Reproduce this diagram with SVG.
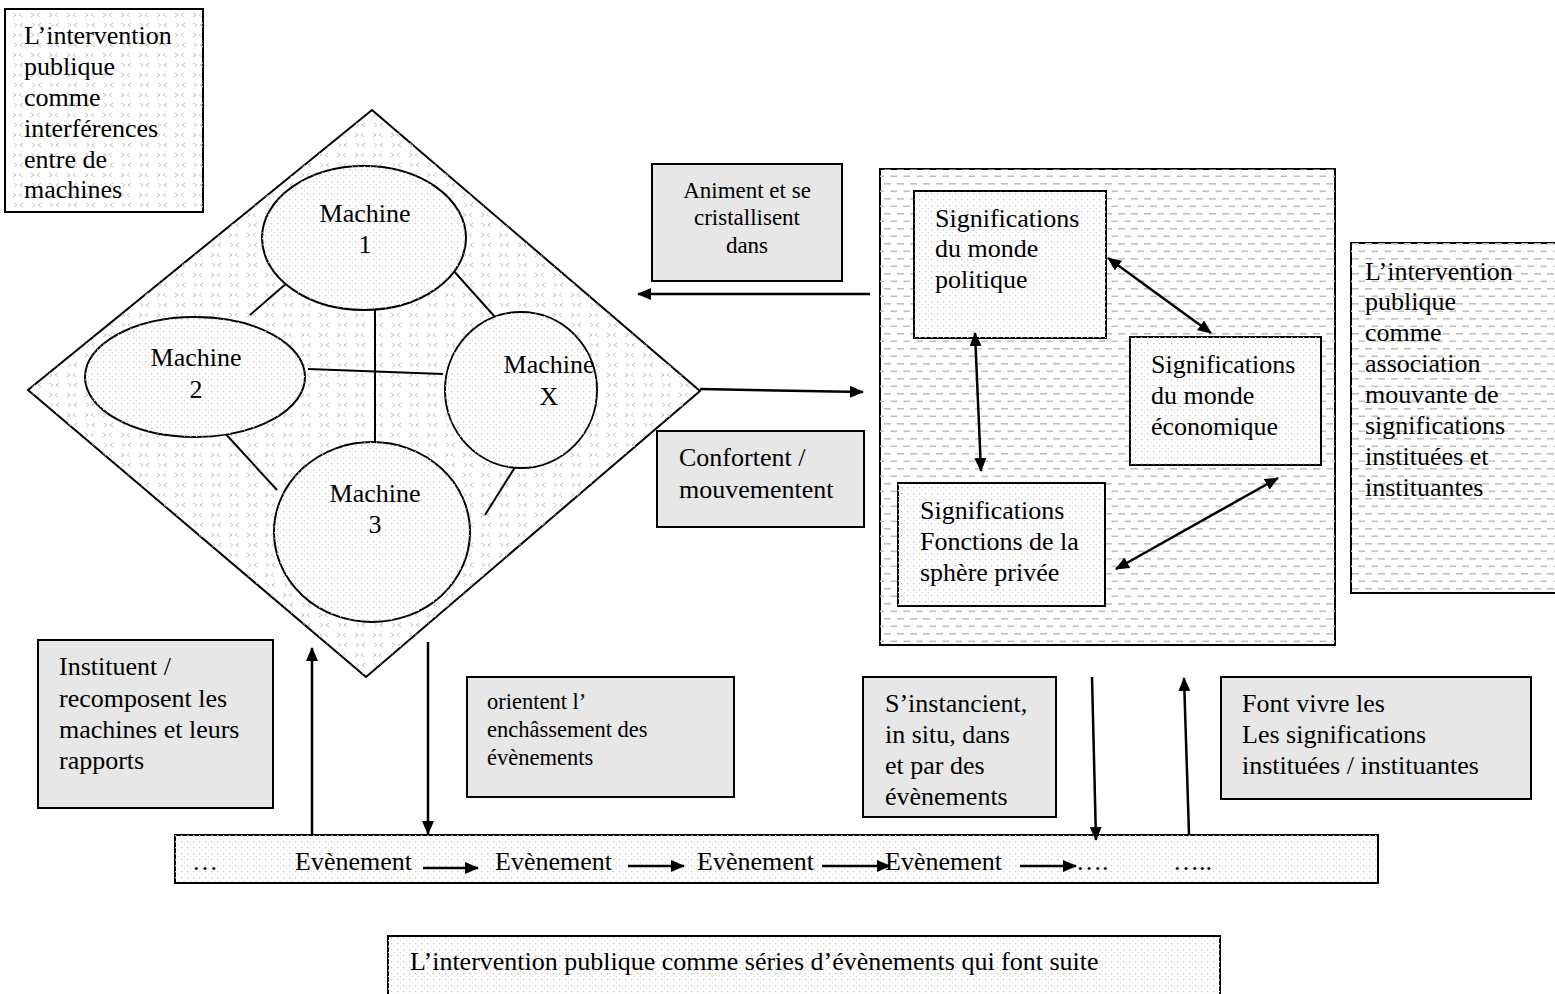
<svg xmlns="http://www.w3.org/2000/svg" width="1555" height="994" viewBox="0 0 1555 994" font-family="'Liberation Serif', 'DejaVu Serif', serif">
<defs>
<pattern id="chev" width="18" height="20" patternUnits="userSpaceOnUse">
<path d="M5 3 L2 5 L5 7 M13 13 L16 15 L13 17" fill="none" stroke="#c2c2c2" stroke-width="1"/>
<path d="M14 3 L17 5 L14 7 M4 13 L1 15 L4 17" fill="none" stroke="#d0d0d0" stroke-width="1"/>
</pattern>
<pattern id="dots" width="6" height="6" patternUnits="userSpaceOnUse">
<rect x="1" y="1" width="1.4" height="1.4" fill="#c8c8c8"/>
<rect x="4" y="4" width="1.2" height="1.2" fill="#dcdcdc"/>
</pattern>
<pattern id="dash" width="13" height="15" patternUnits="userSpaceOnUse">
<rect x="0" y="3" width="7" height="1.6" fill="#c0c0c0"/>
<rect x="6.5" y="10.5" width="7" height="1.6" fill="#c0c0c0"/>
</pattern>
<marker id="ah" viewBox="0 0 14 12" refX="13" refY="6" markerWidth="14" markerHeight="12" markerUnits="userSpaceOnUse" orient="auto-start-reverse">
<path d="M0 0 L14 6 L0 12 Z" fill="#000"/>
</marker>
</defs>
<style>
text{font-family:'Liberation Serif','DejaVu Serif',serif;font-size:26px;fill:#000}
.s{font-size:23px}
.xs{font-size:22.5px}
.box{stroke:#000;stroke-width:2}
.grey{fill:#e7e7e7;stroke:#000;stroke-width:2}
.ln{stroke:#000;stroke-width:2;fill:none}
.ar{stroke:#000;stroke-width:2.5;fill:none;marker-end:url(#ah)}
.dar{stroke:#000;stroke-width:2.5;fill:none;marker-end:url(#ah);marker-start:url(#ah)}
.c{text-anchor:middle}
</style>

<g id="title-machines">
<rect class="box" x="5" y="9" width="198" height="203" fill="#fff"/>
<rect x="5" y="9" width="198" height="203" fill="url(#chev)"/>
<text x="24" y="44">L’intervention</text>
<text x="24" y="75">publique</text>
<text x="24" y="106">comme</text>
<text x="24" y="137">interférences</text>
<text x="24" y="168">entre de</text>
<text x="24" y="198">machines</text>
</g>

<g id="diamond">
<path d="M372 110 L700 391 L366 677 L28 390 Z" fill="#fff" stroke="#000" stroke-width="2"/>
<path d="M372 110 L700 391 L366 677 L28 390 Z" fill="url(#chev)"/>
</g>

<g id="machine-lines">
<line class="ln" x1="250" y1="315" x2="288" y2="282"/>
<line class="ln" x1="452" y1="269" x2="495" y2="317"/>
<line class="ln" x1="375" y1="283" x2="375" y2="452"/>
<line class="ln" x1="308" y1="369" x2="443" y2="374"/>
<line class="ln" x1="222" y1="430" x2="277" y2="490"/>
<line class="ln" x1="485" y1="515" x2="517" y2="464"/>
</g>

<g id="machine1">
<ellipse cx="364" cy="238" rx="102" ry="72" fill="#fff" stroke="#000" stroke-width="2"/>
<ellipse cx="364" cy="238" rx="102" ry="72" fill="url(#dots)"/>
<text class="c" x="365" y="222">Machine</text>
<text class="c" x="365" y="253">1</text>
</g>
<g id="machine2">
<ellipse cx="195" cy="377" rx="110" ry="60" fill="#fff" stroke="#000" stroke-width="2"/>
<ellipse cx="195" cy="377" rx="110" ry="60" fill="url(#dots)"/>
<text class="c" x="196" y="366">Machine</text>
<text class="c" x="196" y="398">2</text>
</g>
<g id="machineX">
<ellipse cx="521" cy="390" rx="76" ry="78" fill="#fff" stroke="#000" stroke-width="2"/>
<ellipse cx="521" cy="390" rx="76" ry="78" fill="url(#dots)"/>
<text class="c" x="549" y="373">Machine</text>
<text class="c" x="549" y="405">X</text>
</g>
<g id="machine3">
<ellipse cx="372" cy="532" rx="98" ry="90" fill="#fff" stroke="#000" stroke-width="2"/>
<ellipse cx="372" cy="532" rx="98" ry="90" fill="url(#dots)"/>
<text class="c" x="375" y="502">Machine</text>
<text class="c" x="375" y="533">3</text>
</g>

<g id="significations">
<rect class="box" x="880" y="169" width="455" height="476" fill="#fff"/>
<rect x="880" y="169" width="455" height="476" fill="url(#dash)"/>
</g>
<g id="sig-politique">
<rect class="box" x="914" y="191" width="192" height="147" fill="#fff"/>
<rect x="914" y="191" width="192" height="147" fill="url(#dots)"/>
<text x="935" y="227">Significations</text>
<text x="935" y="257">du monde</text>
<text x="935" y="288">politique</text>
</g>
<g id="sig-economique">
<rect class="box" x="1130" y="337" width="191" height="128" fill="#fff"/>
<rect x="1130" y="337" width="191" height="128" fill="url(#dots)"/>
<text x="1151" y="373">Significations</text>
<text x="1151" y="404">du monde</text>
<text x="1151" y="435">économique</text>
</g>
<g id="sig-privee">
<rect class="box" x="898" y="483" width="207" height="123" fill="#fff"/>
<rect x="898" y="483" width="207" height="123" fill="url(#dots)"/>
<text x="920" y="519">Significations</text>
<text x="920" y="550">Fonctions de la</text>
<text x="920" y="581">sphère privée</text>
</g>

<g id="title-associations">
<rect class="box" x="1351" y="243" width="215" height="350" fill="#fff"/>
<rect x="1351" y="243" width="215" height="350" fill="url(#dash)"/>
<text x="1365" y="280">L’intervention</text>
<text x="1365" y="310">publique</text>
<text x="1365" y="341">comme</text>
<text x="1365" y="372">association</text>
<text x="1365" y="403">mouvante de</text>
<text x="1365" y="434">significations</text>
<text x="1365" y="465">instituées et</text>
<text x="1365" y="496">instituantes</text>
</g>

<g id="lbl-animent">
<rect class="grey" x="652" y="164" width="190" height="117"/>
<text class="c s" x="747" y="198">Animent et se</text>
<text class="c s" x="747" y="225">cristallisent</text>
<text class="c s" x="747" y="253">dans</text>
</g>
<g id="lbl-confortent">
<rect class="grey" x="657" y="431" width="207" height="96"/>
<text x="679" y="466">Confortent /</text>
<text x="679" y="498">mouvementent</text>
</g>
<g id="lbl-instituent">
<rect class="grey" x="38" y="640" width="235" height="168"/>
<text x="59" y="675">Instituent /</text>
<text x="59" y="707">recomposent les</text>
<text x="59" y="738">machines et leurs</text>
<text x="59" y="769">rapports</text>
</g>
<g id="lbl-orientent">
<rect class="grey" x="467" y="677" width="267" height="120"/>
<text class="xs" x="487" y="709">orientent l’</text>
<text class="xs" x="487" y="737">enchâssement des</text>
<text class="xs" x="487" y="765">évènements</text>
</g>
<g id="lbl-instancient">
<rect class="grey" x="863" y="677" width="193" height="140"/>
<text x="885" y="712">S’instancient,</text>
<text x="885" y="743">in situ, dans</text>
<text x="885" y="774">et par des</text>
<text x="885" y="805">évènements</text>
</g>
<g id="lbl-fontvivre">
<rect class="grey" x="1221" y="677" width="310" height="122"/>
<text x="1242" y="712">Font vivre les</text>
<text x="1242" y="743">Les significations</text>
<text x="1242" y="774">instituées / instituantes</text>
</g>

<g id="events">
<rect class="box" x="175" y="835" width="1203" height="48" fill="#fff"/>
<rect x="175" y="835" width="1203" height="48" fill="url(#dots)"/>
<text x="192" y="870">…</text>
<text x="295" y="870">Evènement</text>
<text x="495" y="870">Evènement</text>
<text x="697" y="870">Evènement</text>
<text x="885" y="870">Evènement</text>
<text x="1076" y="870">….</text>
<text x="1173" y="870">…..</text>
</g>

<g id="title-series">
<rect class="box" x="388" y="936" width="832" height="70" fill="#fff"/>
<rect x="388" y="936" width="832" height="70" fill="url(#dots)"/>
<text x="410" y="970">L’intervention publique comme séries d’évènements qui font suite</text>
</g>

<g id="connectors">
<line class="ar" x1="870" y1="294" x2="638" y2="294"/>
<line class="ar" x1="700" y1="389" x2="863" y2="392"/>
<line class="dar" x1="1108" y1="258" x2="1211" y2="333"/>
<line class="dar" x1="975" y1="333" x2="981" y2="471"/>
<line class="dar" x1="1278" y1="478" x2="1116" y2="569"/>
<line class="ar" x1="312" y1="834" x2="312" y2="648"/>
<line class="ar" x1="428" y1="642" x2="428" y2="834"/>
<line class="ar" x1="1092" y1="677" x2="1096" y2="840"/>
<line class="ar" x1="1189" y1="834" x2="1184" y2="678"/>
<line class="ar" x1="423" y1="868" x2="478" y2="868"/>
<line class="ar" x1="628" y1="866" x2="684" y2="866"/>
<line class="ar" x1="822" y1="866" x2="890" y2="866"/>
<line class="ar" x1="1020" y1="866" x2="1076" y2="866"/>
</g>
</svg>
